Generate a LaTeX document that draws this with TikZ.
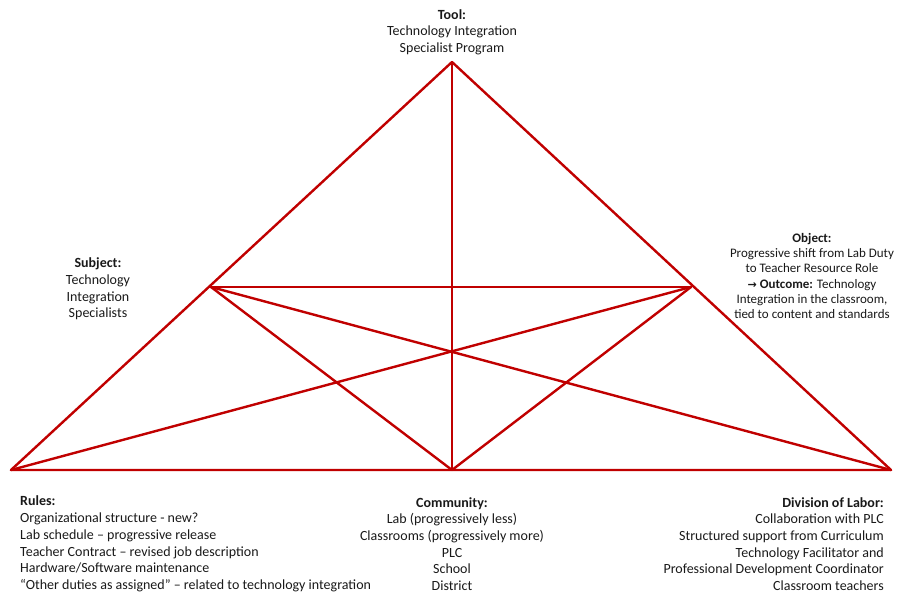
\documentclass[tikz,border=0pt]{standalone}
\usepackage{fontspec}
\setmainfont{Carlito}
\newfontfamily\symfont{DejaVu Sans}
\definecolor{linered}{RGB}{192,0,0}
\definecolor{txt}{RGB}{25,25,25}
\begin{document}
\begin{tikzpicture}[x=1pt,y=-1pt,
  edge/.style={draw=linered,line width=2.4pt,line cap=round,line join=round},
  lbl/.style={inner sep=0pt,text=txt,font=\fontsize{14}{16.7}\selectfont}]
\useasboundingbox (0,0) rectangle (898,594);

% vertices of the activity triangle
\coordinate (T)  at (452,62);
\coordinate (S)  at (211,287);
\coordinate (O)  at (691,287);
\coordinate (BL) at (11,470);
\coordinate (BM) at (452,470);
\coordinate (BR) at (891,470);

% outer triangle and inner connections
\draw[edge] (BL) -- (T) -- (BR) -- cycle;
\draw[edge] (T) -- (BM);
\draw[edge] (S) -- (O);
\draw[edge] (S) -- (BM);
\draw[edge] (O) -- (BM);
\draw[edge] (S) -- (BR);
\draw[edge] (O) -- (BL);

% labels
\node[lbl,align=center] (tool) at (452,32)
  {\textbf{Tool:}\\Technology Integration\\Specialist Program};
\node[lbl,align=center] (subject) at (98,289)
  {\textbf{Subject:}\\Technology\\Integration\\Specialists};
\node[lbl,align=center,font=\fontsize{13}{15.3}\selectfont] (object) at (812,276)
  {\textbf{Object:}\\Progressive shift from Lab Duty\\to Teacher Resource Role\\
   {\symfont\bfseries\fontsize{11}{15.3}\selectfont →} \textbf{Outcome:} Technology\\
   Integration in the classroom,\\tied to content and standards};
\node[lbl,align=left,anchor=west] (rules) at (20,544)
  {\textbf{Rules:}\\Organizational structure - new?\\Lab schedule – progressive release\\
   Teacher Contract – revised job description\\Hardware/Software maintenance\\
   “Other duties as assigned” – related to technology integration};
\node[lbl,align=center] (community) at (452,544)
  {\textbf{Community:}\\Lab (progressively less)\\Classrooms (progressively more)\\PLC\\School\\District};
\node[lbl,align=right,anchor=east] (labor) at (884,544)
  {\textbf{Division of Labor:}\\Collaboration with PLC\\Structured support from Curriculum\\
   Technology Facilitator and\\Professional Development Coordinator\\Classroom teachers};
\end{tikzpicture}
\end{document}
